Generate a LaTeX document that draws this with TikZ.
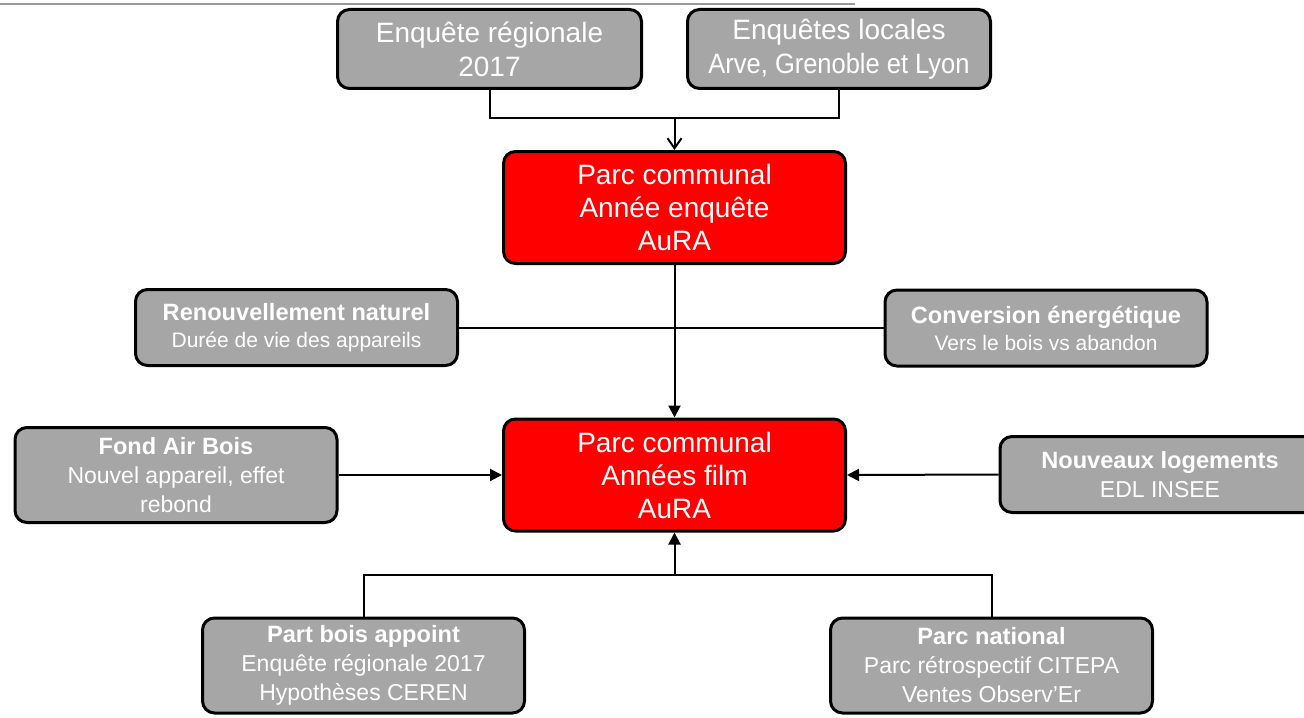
\documentclass[tikz,border=0pt]{standalone}
\usepackage{fontspec}
\setmainfont{Liberation Sans}
\usepackage{tikz}
\usetikzlibrary{arrows.meta}
\definecolor{boxgray}{HTML}{A6A6A6}
\newcommand{\titre}[1]{{\fontsize{11.8}{14.5}\selectfont\bfseries #1}}

\begin{document}
\begin{tikzpicture}[x=0.5pt,y=-0.5pt,
    srcbox/.style={draw=black, line width=1.5pt, fill=boxgray, rounded corners=6pt,
        text=white, align=center, inner sep=0pt},
    topbox/.style={srcbox, minimum height=39.5pt, font=\fontsize{14}{17}\selectfont},
    parcbox/.style={srcbox, fill=red, minimum width=171pt, minimum height=56pt,
        font=\fontsize{14}{16.5}\selectfont},
    midbox/.style={srcbox, minimum width=161pt, minimum height=38pt,
        font=\fontsize{10.5}{13.5}\selectfont},
    lowbox/.style={srcbox, minimum width=161pt,
        font=\fontsize{11.5}{14.5}\selectfont},
    lien/.style={line width=1pt, draw=black},
    fleche/.style={lien, -{Triangle[length=6pt,width=6pt]}}]

    \useasboundingbox (0,0) rectangle (1304,717);
    \clip (0,0) rectangle (1304,717);
    \draw[black!40, line width=0.6pt] (0,4) -- (855,4);

    % enquetes
    \node[topbox, minimum width=152pt] (enqreg) at (489.5,49) {Enquête régionale\\2017};
    \node[topbox, minimum width=151.5pt] (enqloc) at (839,49) {Enquêtes locales\\\scalebox{0.91}[1]{Arve, Grenoble et Lyon}};

    % parcs
    \node[parcbox] (parcenq) at (674.5,207.5) {Parc communal\\Année enquête\\AuRA};
    \node[parcbox] (parcfilm) at (674.5,475) {Parc communal\\Années film\\AuRA};

    \node[midbox] (renouv) at (296.5,327.5) {\titre{Renouvellement naturel}\\Durée de vie des appareils};
    \node[midbox] (conv) at (1046,328) {\titre{Conversion énergétique}\\Vers le bois vs abandon};

    \node[lowbox, minimum height=47.5pt] (fab) at (176,475) {\titre{Fond Air Bois}\\Nouvel appareil, effet\\rebond};
    \node[lowbox, minimum width=160pt, minimum height=38pt] (logmt) at (1160,474.5) {\titre{Nouveaux logements}\\EDL INSEE};

    \node[lowbox, minimum height=47.5pt] (appoint) at (363.5,665.5) {\titre{Part bois appoint}\\Enquête régionale 2017\\Hypothèses CEREN};
    \node[lowbox, minimum height=47.5pt] (national) at (991.5,665.5) {\titre{Parc national}\\Parc rétrospectif CITEPA\\Ventes Observ’Er};

    % liens
    \coordinate (jhaut) at (674.5,118);
    \coordinate (jbas) at (674.5,575);
    \draw[lien] (enqreg.south) |- (jhaut) -| (enqloc.south);
    \draw[lien, -{Straight Barb[length=5pt,width=7pt]}] (jhaut) -- (parcenq.north);
    \draw[fleche] (parcenq.south) -- (parcfilm.north);
    \draw[lien] (renouv.east) -- (renouv.east -| conv.west);
    \draw[fleche] (fab.east) -- (parcfilm.west);
    \draw[fleche] (logmt.west) -- (parcfilm.east);
    \draw[lien] (appoint.north) |- (jbas) -| (national.north);
    \draw[fleche] (jbas) -- (parcfilm.south);

\end{tikzpicture}
\end{document}
